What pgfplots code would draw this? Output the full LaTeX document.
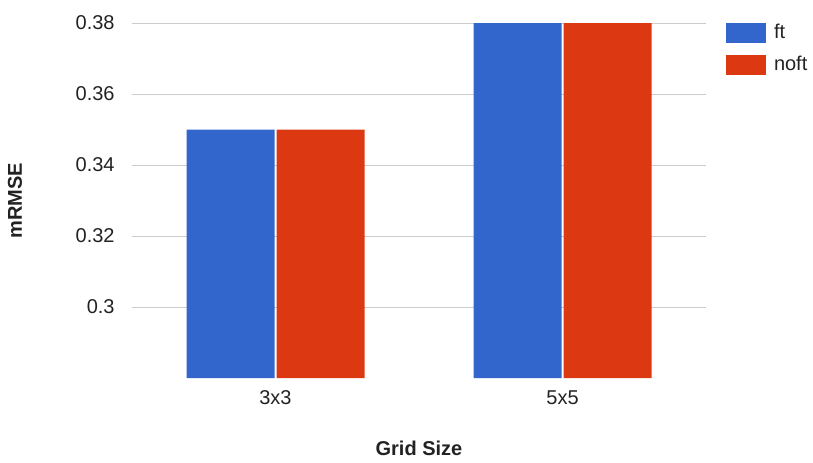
\documentclass[border=0pt]{standalone}
\usepackage{pgfplots}
\pgfplotsset{compat=1.18}
\usepackage{fontspec}
\setmainfont{Liberation Sans}
\definecolor{gblue}{HTML}{3366CC}
\definecolor{gred}{HTML}{DC3912}
\definecolor{gtext}{HTML}{222222}
\definecolor{ggrid}{HTML}{CCCCCC}
\begin{document}
\begin{tikzpicture}
\useasboundingbox (0,0) rectangle (406.5pt,231pt);
\begin{axis}[
  at={(66pt,42pt)}, anchor=south west,
  scale only axis, width=287pt, height=177.5pt,
  ybar=1pt, bar width=44pt,
  xmin=-0.5, xmax=1.5, ymin=0.28, ymax=0.38,
  enlargelimits=false,
  xtick={0,1}, xticklabels={3x3,5x5},
  ytick={0.30,0.32,0.34,0.36,0.38},
  yticklabels={0.3,0.32,0.34,0.36,0.38},
  axis line style={draw=none},
  major tick length=0pt,
  ymajorgrids, grid style={ggrid, line width=0.5pt},
  font=\fontsize{10pt}{12pt}\selectfont,
  tick label style={gtext, font=\fontsize{10pt}{12pt}\selectfont},
  /pgf/number format/assume math mode=true,
  xticklabel style={inner sep=0pt, yshift=-6pt},
  yticklabel style={inner sep=0pt, xshift=-8.5pt},
  xlabel={\textbf{Grid Size}}, ylabel={\textbf{mRMSE}},
  xlabel style={at={(axis description cs:0.5,-0.197)}, anchor=center, gtext},
  ylabel style={at={(axis description cs:-0.204,0.5)}, anchor=center, gtext},
  legend image code/.code={\fill[#1] (0pt,-5pt) rectangle (20pt,5pt);},
  legend style={at={(axis description cs:1,1)}, anchor=north west, xshift=10pt,
    draw=none, fill=none, inner sep=0pt, outer sep=0pt,
    nodes={inner sep=0pt, text=gtext}, row sep=6pt, column sep=4pt,
    font=\fontsize{10pt}{12pt}\selectfont},
  legend cell align=left,
]
\addplot[fill=gblue, draw=none] coordinates {(0,0.35) (1,0.38)};
\addplot[fill=gred, draw=none] coordinates {(0,0.35) (1,0.38)};
\legend{ft,noft}
\end{axis}
\end{tikzpicture}
\end{document}
